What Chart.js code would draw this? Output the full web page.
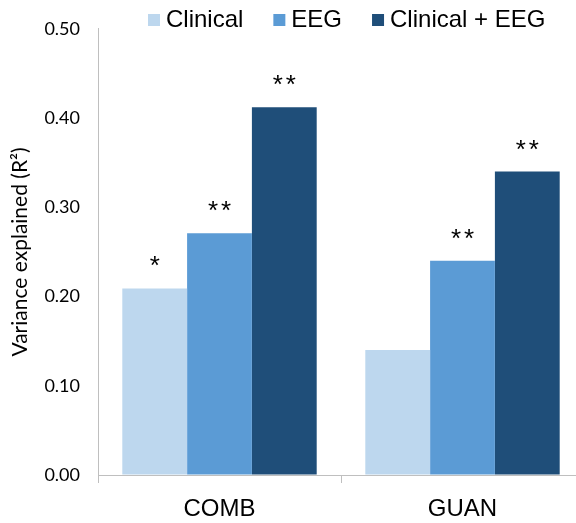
<!DOCTYPE html>
<html><head><meta charset="utf-8">
<script src="https://cdn.jsdelivr.net/npm/chart.js@4"></script>
<style>html,body{margin:0;padding:0;overflow:hidden;background:#fff}#wrap{width:600px;height:523px}</style>
</head><body><div id="wrap"><canvas id="c" width="600" height="523"></canvas></div>
<script>
const categories = ['COMB', 'GUAN'];
const seriesNames = ['Clinical', 'EEG', 'Clinical + EEG'];
const clinical = [0.209, 0.140];
const eeg = [0.271, 0.240];
const clinicalEeg = [0.412, 0.340];
const sigClinical = ['*', ''];
const sigEeg = ['**', '**'];
const sigClinicalEeg = ['**', '**'];
const yTicks = [0.0, 0.1, 0.2, 0.3, 0.4, 0.5];
const yTitle = 'Variance explained (R\u00B2)';
const colors = ['#BDD7EE', '#5B9BD5', '#1F4E79'];

const sigLabels = [sigClinical, sigEeg, sigClinicalEeg];

const legendPlugin = {
  id: 'customLegend',
  afterDraw(chart) {
    const ctx = chart.ctx;
    ctx.save();
    ctx.font = '24px "Liberation Sans", Arial, sans-serif';
    ctx.textBaseline = 'middle';
    ctx.fillStyle = '#000';
    let x = 148;
    const cy = 20;
    chart.data.datasets.forEach(ds => {
      ctx.fillStyle = ds.backgroundColor;
      ctx.fillRect(x, cy - 6, 12, 12);
      x += 18;
      ctx.fillStyle = '#000';
      ctx.textAlign = 'left';
      ctx.fillText(ds.label, x, cy);
      x += ctx.measureText(ds.label).width + 30;
    });
    ctx.restore();
  }
};

const sigPlugin = {
  id: 'sigMarks',
  afterDatasetsDraw(chart) {
    const ctx = chart.ctx;
    ctx.save();
    ctx.font = '26px "Liberation Sans", Arial, sans-serif';
    ctx.textAlign = 'center';
    ctx.textBaseline = 'alphabetic';
    ctx.fillStyle = '#000';
    sigLabels.forEach((arr, di) => {
      const meta = chart.getDatasetMeta(di);
      arr.forEach((s, j) => {
        if (!s) return;
        const el = meta.data[j];
        const n = s.length;
        const spacing = 13;
        for (let k = 0; k < n; k++) {
          const cx = el.x + (k - (n - 1) / 2) * spacing;
          ctx.fillText(s[k], cx, el.y - 14);
        }
      });
    });
    ctx.restore();
  }
};

new Chart(document.getElementById('c'), {
  type: 'bar',
  data: {
    labels: categories,
    datasets: [
      { label: seriesNames[0], data: clinical, backgroundColor: colors[0] },
      { label: seriesNames[1], data: eeg, backgroundColor: colors[1] },
      { label: seriesNames[2], data: clinicalEeg, backgroundColor: colors[2] }
    ]
  },
  options: {
    responsive: false,
    devicePixelRatio: 1,
    animation: false,
    layout: { padding: { top: 24, right: 16, left: 0, bottom: 0 } },
    datasets: { bar: { categoryPercentage: 0.8, barPercentage: 1.0, borderWidth: 0 } },
    plugins: { legend: { display: false }, tooltip: { enabled: false } },
    scales: {
      x: {
        offset: true,
        grid: { offset: true, drawOnChartArea: false, drawTicks: true, tickLength: 8, color: '#BFBFBF', lineWidth: 1 },
        border: { display: true, color: '#BFBFBF', width: 1 },
        ticks: { color: '#000', font: { family: '"Liberation Sans", Arial, sans-serif', size: 24 }, padding: 12, maxRotation: 0 },
        afterFit(s) { s.height = 48; }
      },
      y: {
        min: 0, max: 0.5,
        grid: { display: true, drawOnChartArea: false, drawTicks: false },
        border: { display: true, color: '#BFBFBF', width: 1 },
        afterBuildTicks(s) { s.ticks = yTicks.map(v => ({ value: v })); },
        ticks: { color: '#000', font: { family: 'Lato, sans-serif', size: 18 }, padding: 18, callback: v => Number(v).toFixed(2) },
        title: { display: true, text: yTitle, color: '#000', font: { family: 'Lato, sans-serif', size: 21 }, padding: { top: 8, bottom: 0 } },
        afterFit(s) { s.width = 98; }
      }
    }
  },
  plugins: [legendPlugin, sigPlugin]
});
</script>
</body></html>
